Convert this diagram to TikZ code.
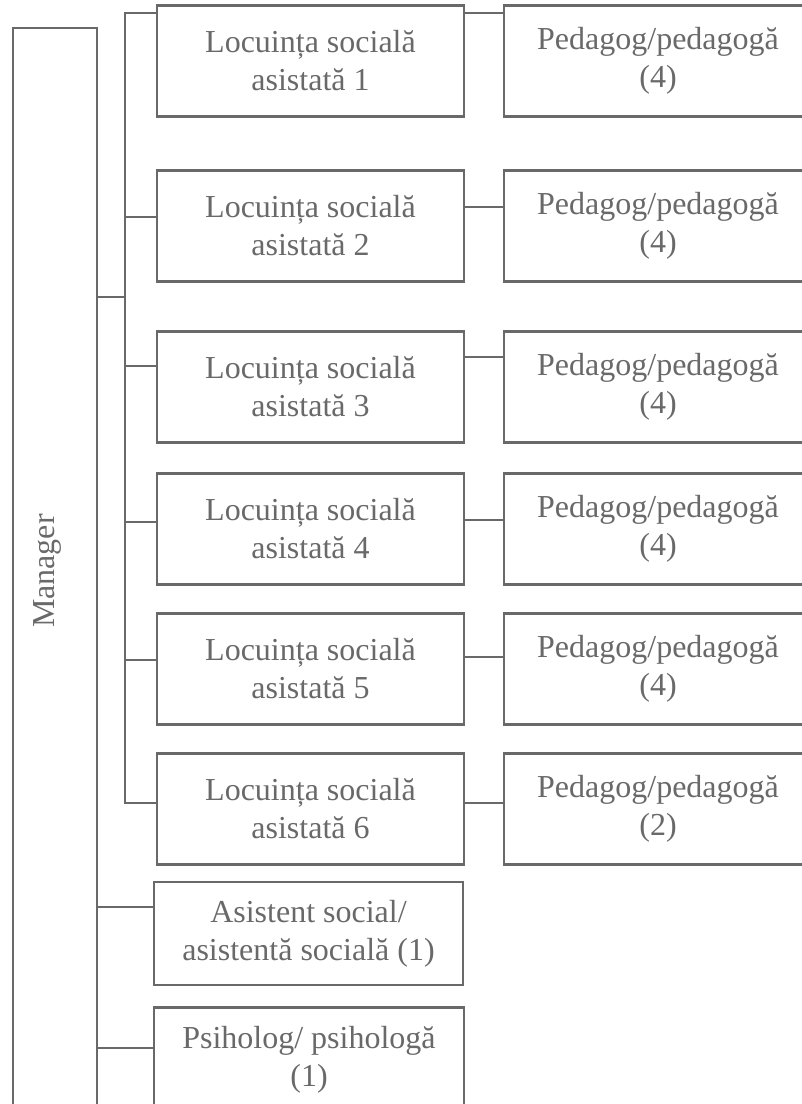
\documentclass[tikz,border=0pt]{standalone}
\usepackage{fontspec}
\setmainfont{Liberation Serif}
\definecolor{ink}{RGB}{105,105,105}

\begin{document}
\begin{tikzpicture}[x=0.5pt,y=-0.5pt,
  txt/.style={text=ink,font=\fontsize{16}{19}\selectfont},
  box/.style={txt,draw=ink,line width=1.35pt,align=center,inner sep=0pt},
  house/.style={box,minimum width=153.5pt,minimum height=55.5pt},
  staff/.style={box,minimum width=154pt,minimum height=55.5pt},
  link/.style={draw=ink,line width=0.7pt}]
  \useasboundingbox (0,0) rectangle (802,1104);
  \node[box,minimum width=42pt,minimum height=551pt] (mgr) at (55,579) {};
  \node[txt,rotate=90] (mgrtxt) at (47,571) {Manager};
  \foreach \i/\y in {1/61,2/226,3/387,4/529,5/669,6/809}
    \node[house] (l\i) at (310.5,\y) {Locuința socială\\asistată \i};
  \foreach \i/\y/\n in {1/61/4,2/226/4,3/387/4,4/529/4,5/669/4,6/809/2}
    \node[staff] (p\i) at (658,\y) {Pedagog/pedagogă\\(\n)};
  \node[box,minimum width=154.5pt,minimum height=51.5pt] (as) at (308.5,933.5)
    {Asistent social/\\asistentă socială (1)};
  \node[box,minimum width=155pt,minimum height=52.5pt] (ps) at (309,1060)
    {Psiholog/ psihologă\\(1)};
  \coordinate (brk) at (125,297);
  \foreach \i/\a/\b in {1/24/24,2/4.5/9.5,3/10.5/15,4/3.5/4.5,5/4.5/6,6/3/3} {
    \coordinate (h\i) at ([yshift=\a pt]l\i.west);
    \coordinate (r\i) at ([yshift=\b pt]l\i.east);
    \draw[link] (r\i) -- (r\i -| p\i.west);
  }
  \draw[link] (h1) -| (brk) |- (h6);
  \foreach \i in {2,...,5}
    \draw[link] (h\i) -- (h\i -| brk);
  \draw[link] (mgr.east |- brk) -- (brk);
  \coordinate (ha) at ([yshift=13.25pt]as.west);
  \coordinate (hp) at ([yshift=6pt]ps.west);
  \draw[link] (ha) -- (ha -| mgr.east);
  \draw[link] (hp) -- (hp -| mgr.east);
\end{tikzpicture}
\end{document}
